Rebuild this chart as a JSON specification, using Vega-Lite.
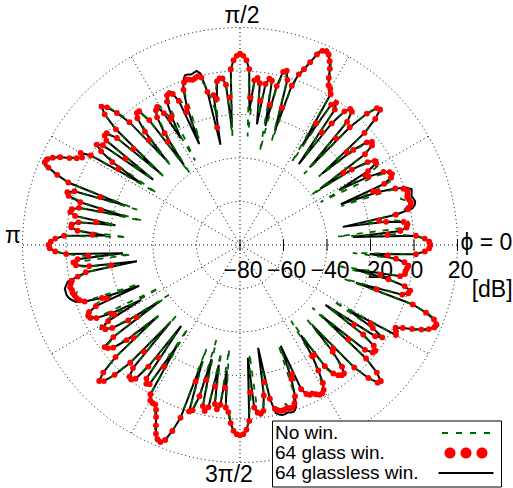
{
"$schema": "https://vega.github.io/schema/vega-lite/v6.json",
"width": 435, "height": 435,
"autosize": {"type": "none"},
"padding": {"left": 22.5, "top": 27.5, "right": 55.5, "bottom": 25.5},
"background": "white",
"config": {"view": {"stroke": null}, "font": "Liberation Sans"},
"datasets": {
"rings": [{"r":20},{"r":40},{"r":60},{"r":80},{"r":100}],
"spokes": [{"a":0},{"a":30},{"a":60},{"a":90},{"a":120},{"a":150},{"a":180},{"a":210},{"a":240},{"a":270},{"a":300},{"a":330}],
"tk": [{"r":0,"t":"−80"},{"r":20,"t":"−60"},{"r":40,"t":"−40"},{"r":60,"t":"−20"},{"r":80,"t":"0"},{"r":100,"t":"20"}],
"lbl": [{"t":"π/2","x":0.9,"y":105.3},{"t":"π","x":-104.4,"y":4.1},{"t":"3π/2","x":-5.1,"y":-105.7},{"t":"ϕ = 0","x":113.3,"y":0.9},{"t":"[dB]","x":115.9,"y":-20.7}],
"pat": [
{"a":0,"n":8,"g":7.5,"k":7.5},{"a":1,"n":7.5,"g":7,"k":7},{"a":2,"n":5,"g":5,"k":5},{"a":3,"n":0,"g":1,"k":1},{"a":4,"n":-8,"g":-12,"k":-28},
{"a":5,"n":-35,"g":-6,"k":-6},{"a":6,"n":-5,"g":-3,"k":-3},{"a":7,"n":-1.5,"g":-2.5,"k":-2.5},{"a":8,"n":-2,"g":-4,"k":-4},{"a":9,"n":-8,"g":-12,"k":-12},
{"a":10,"n":-25,"g":-15,"k":-32},{"a":11,"n":-10,"g":-7,"k":-7},{"a":12,"n":-3,"g":-1,"k":1},{"a":13,"n":-1,"g":0.5,"k":2.5},{"a":14,"n":0,"g":1,"k":3},
{"a":15,"n":-1,"g":0.5,"k":2.5},{"a":16,"n":-3,"g":0,"k":2},{"a":17,"n":-2,"g":0.5,"k":2.5},{"a":18,"n":0,"g":1,"k":3},{"a":19,"n":-1,"g":-0.5,"k":1},
{"a":20,"n":-6,"g":-4,"k":-4},{"a":21,"n":-30,"g":-12,"k":-12},{"a":22,"n":-10,"g":-14,"k":-30},{"a":23,"n":-5,"g":-8,"k":-8},{"a":24,"n":-3,"g":-4,"k":-4},
{"a":25,"n":-2,"g":-3,"k":-3},{"a":26,"n":-4,"g":-3.5,"k":-3.5},{"a":27,"n":-10,"g":-6,"k":-6},{"a":28,"n":-38,"g":-13,"k":-13},{"a":29,"n":-12,"g":-14,"k":-28},
{"a":30,"n":-6,"g":-12,"k":-12},{"a":31,"n":-5,"g":-7,"k":-7},{"a":32,"n":-6,"g":-7,"k":-7},{"a":33,"n":-12,"g":-10,"k":-10},{"a":34,"n":-20,"g":-18,"k":-18},
{"a":35,"n":-40,"g":-22,"k":-35},{"a":36,"n":-10,"g":-9,"k":-9},{"a":37,"n":-4,"g":-4,"k":-4},{"a":38,"n":-3,"g":-3,"k":-3},{"a":39,"n":-6,"g":-5,"k":-5},
{"a":40,"n":-16,"g":-12,"k":-12},{"a":41,"n":-32,"g":-15,"k":-30},{"a":42,"n":-2,"g":-3,"k":-3},{"a":43,"n":6,"g":5,"k":5},{"a":44,"n":10.5,"g":9.5,"k":9.5},
{"a":45,"n":10,"g":9,"k":9},{"a":46,"n":4,"g":4,"k":4},{"a":47,"n":-8,"g":-6,"k":-6},{"a":48,"n":-36,"g":-14,"k":-32},{"a":49,"n":-5,"g":-5,"k":-5},
{"a":50,"n":-1,"g":0,"k":0},{"a":51,"n":0,"g":0.5,"k":0.5},{"a":52,"n":-3,"g":-2,"k":-2},{"a":53,"n":-12,"g":-10,"k":-10},{"a":54,"n":-30,"g":-16,"k":-34},
{"a":55,"n":-6,"g":-4,"k":-4},{"a":56,"n":-2,"g":-1,"k":-1},{"a":57,"n":-4,"g":-3,"k":-3},{"a":58,"n":-35,"g":-14,"k":-26},{"a":59,"n":-2,"g":1,"k":1},
{"a":60,"n":2,"g":3,"k":3},{"a":61,"n":4.5,"g":4,"k":4},{"a":62,"n":8,"g":7,"k":7},{"a":63,"n":12,"g":11,"k":11},{"a":64,"n":15,"g":14,"k":14},
{"a":65,"n":17.5,"g":16.5,"k":16.5},{"a":66,"n":18.5,"g":17.5,"k":17.5},{"a":67,"n":18,"g":17,"k":17},{"a":68,"n":15.5,"g":14.5,"k":14.5},{"a":69,"n":11,"g":10,"k":10},
{"a":70,"n":6,"g":6,"k":6},{"a":71,"n":2,"g":3,"k":3},{"a":72,"n":-5,"g":-3,"k":-3},{"a":73,"n":-30,"g":-14,"k":-25},{"a":74,"n":-3,"g":-1,"k":-1},
{"a":75,"n":2,"g":3,"k":3},{"a":76,"n":1,"g":2,"k":2},{"a":77,"n":-8,"g":-5,"k":-5},{"a":78,"n":-36,"g":-14,"k":-24},{"a":79,"n":-4,"g":-3,"k":-3},
{"a":80,"n":-2,"g":-2.3,"k":-2.3},{"a":81,"n":-5,"g":-5,"k":-5},{"a":82,"n":-20,"g":-13,"k":-24},{"a":83,"n":-8,"g":-5,"k":-5},{"a":84,"n":-3,"g":-2.8,"k":-2.8},
{"a":85,"n":-5,"g":-4,"k":-4},{"a":86,"n":-30,"g":-12,"k":-18},{"a":87,"n":0,"g":1,"k":1},{"a":88,"n":5,"g":5,"k":5},{"a":89,"n":7,"g":7,"k":7},
{"a":90,"n":8.5,"g":8,"k":8},{"a":91,"n":7.5,"g":7,"k":7},{"a":92,"n":5,"g":5,"k":5},{"a":93,"n":0,"g":1,"k":1},{"a":94,"n":-30,"g":-12,"k":-26},
{"a":95,"n":-6,"g":-6,"k":-6},{"a":96,"n":-3,"g":-3,"k":-3},{"a":97,"n":-2,"g":-2.8,"k":-2.8},{"a":98,"n":-3,"g":-4,"k":-4},{"a":99,"n":-9,"g":-12,"k":-12},
{"a":100,"n":-20,"g":-10,"k":-10},{"a":101,"n":-12,"g":-25,"k":-33},{"a":102,"n":-6,"g":-8,"k":-8},{"a":103,"n":-3,"g":-1,"k":1},{"a":104,"n":-1,"g":0,"k":2.5},
{"a":105,"n":0,"g":-0.5,"k":2},{"a":106,"n":-2,"g":-1,"k":1.5},{"a":107,"n":-1,"g":-0.5,"k":2},{"a":108,"n":0,"g":0,"k":2},{"a":109,"n":-2,"g":-1,"k":0},
{"a":110,"n":-6,"g":-4,"k":-4},{"a":111,"n":-28,"g":-12,"k":-12},{"a":112,"n":-10,"g":-14,"k":-30},{"a":113,"n":-5,"g":-8,"k":-8},{"a":114,"n":-3,"g":-4,"k":-4},
{"a":115,"n":-2,"g":-3,"k":-3},{"a":116,"n":-4,"g":-3.5,"k":-3.5},{"a":117,"n":-10,"g":-6,"k":-6},{"a":118,"n":-36,"g":-13,"k":-13},{"a":119,"n":-12,"g":-14,"k":-24},
{"a":120,"n":-6,"g":-10,"k":-10},{"a":121,"n":-5,"g":-6,"k":-6},{"a":122,"n":-6,"g":-7,"k":-7},{"a":123,"n":-12,"g":-10,"k":-10},{"a":124,"n":-22,"g":-18,"k":-18},
{"a":125,"n":-40,"g":-22,"k":-35},{"a":126,"n":-10,"g":-9,"k":-9},{"a":127,"n":-4,"g":-3,"k":-3},{"a":128,"n":-3,"g":-3,"k":-3},{"a":129,"n":-6,"g":-5,"k":-5},
{"a":130,"n":-16,"g":-12,"k":-12},{"a":131,"n":-32,"g":-16,"k":-28},{"a":132,"n":-2,"g":-4,"k":-4},{"a":133,"n":4,"g":3,"k":3},{"a":134,"n":9,"g":8,"k":8},
{"a":135,"n":11,"g":10,"k":10},{"a":136,"n":7,"g":6.5,"k":6.5},{"a":137,"n":-2,"g":-2,"k":-2},{"a":138,"n":-34,"g":-14,"k":-30},{"a":139,"n":-6,"g":-5,"k":-5},
{"a":140,"n":-1,"g":0,"k":0},{"a":141,"n":0,"g":0,"k":0},{"a":142,"n":-3,"g":-2,"k":-2},{"a":143,"n":-30,"g":-14,"k":-30},{"a":144,"n":-4,"g":-2,"k":-2},
{"a":145,"n":0,"g":0.5,"k":0.5},{"a":146,"n":-4,"g":-3,"k":-3},{"a":147,"n":-14,"g":-10,"k":-10},{"a":148,"n":-35,"g":-14,"k":-26},{"a":149,"n":-2,"g":0,"k":0},
{"a":150,"n":4,"g":4.6,"k":4.6},{"a":151,"n":3,"g":3,"k":3},{"a":152,"n":5.5,"g":5,"k":5},{"a":153,"n":9,"g":8,"k":8},{"a":154,"n":13,"g":12,"k":12},
{"a":155,"n":16,"g":15,"k":15},{"a":156,"n":18,"g":17,"k":17},{"a":157,"n":19,"g":17.5,"k":17.5},{"a":158,"n":16.5,"g":15,"k":15},{"a":159,"n":11,"g":10,"k":10},
{"a":160,"n":4,"g":4,"k":4},{"a":161,"n":-30,"g":-12,"k":-24},{"a":162,"n":-2,"g":0,"k":0},{"a":163,"n":2,"g":3,"k":3},{"a":164,"n":1,"g":2,"k":2},
{"a":165,"n":-6,"g":-4,"k":-4},{"a":166,"n":-34,"g":-14,"k":-26},{"a":167,"n":-5,"g":-4,"k":-4},{"a":168,"n":-2,"g":-1,"k":-1},{"a":169,"n":-1,"g":-0.5,"k":-0.5},
{"a":170,"n":-4,"g":-3,"k":-3},{"a":171,"n":-22,"g":-13,"k":-22},{"a":172,"n":-6,"g":-5,"k":-5},{"a":173,"n":-3,"g":-2,"k":-2},{"a":174,"n":-2,"g":-2,"k":-2},
{"a":175,"n":-6,"g":-5,"k":-5},{"a":176,"n":-28,"g":-12,"k":-18},{"a":177,"n":0,"g":1,"k":1},{"a":178,"n":5,"g":5,"k":5},{"a":179,"n":7,"g":7,"k":7},
{"a":180,"n":8.5,"g":8,"k":8},{"a":181,"n":7.5,"g":7.5,"k":7.5},{"a":182,"n":5,"g":5,"k":5},{"a":183,"n":0,"g":0,"k":0},{"a":184,"n":-8,"g":-10,"k":-26},
{"a":185,"n":-30,"g":-5,"k":-5},{"a":186,"n":-3,"g":-3,"k":-3},{"a":187,"n":-3,"g":-4,"k":-4},{"a":188,"n":-8,"g":-10,"k":-10},{"a":189,"n":-24,"g":-20,"k":-32},
{"a":190,"n":-10,"g":-8,"k":-8},{"a":191,"n":-5,"g":-4,"k":-4},{"a":192,"n":-2,"g":-1,"k":1},{"a":193,"n":-1,"g":0,"k":2},{"a":194,"n":0,"g":0.5,"k":3},
{"a":195,"n":-1,"g":0,"k":3},{"a":196,"n":-2,"g":0,"k":3},{"a":197,"n":-1,"g":-0.5,"k":2.5},{"a":198,"n":0,"g":-1,"k":1.5},{"a":199,"n":-2,"g":-2,"k":0},
{"a":200,"n":-5,"g":-4,"k":-4},{"a":201,"n":-30,"g":-12,"k":-12},{"a":202,"n":-10,"g":-14,"k":-30},{"a":203,"n":-5,"g":-8,"k":-8},{"a":204,"n":-3,"g":-4,"k":-4},
{"a":205,"n":-2,"g":-3,"k":-3},{"a":206,"n":-4,"g":-3.5,"k":-3.5},{"a":207,"n":-10,"g":-6,"k":-6},{"a":208,"n":-38,"g":-13,"k":-13},{"a":209,"n":-12,"g":-14,"k":-28},
{"a":210,"n":-6,"g":-10,"k":-10},{"a":211,"n":-5,"g":-6.5,"k":-6.5},{"a":212,"n":-6,"g":-7,"k":-7},{"a":213,"n":-12,"g":-10,"k":-10},{"a":214,"n":-20,"g":-18,"k":-18},
{"a":215,"n":-40,"g":-22,"k":-35},{"a":216,"n":-10,"g":-8,"k":-8},{"a":217,"n":-3,"g":-2,"k":-2},{"a":218,"n":-3,"g":-3,"k":-3},{"a":219,"n":-6,"g":-5,"k":-5},
{"a":220,"n":-16,"g":-12,"k":-12},{"a":221,"n":-32,"g":-15,"k":-30},{"a":222,"n":-2,"g":-3,"k":-3},{"a":223,"n":6,"g":6,"k":6},{"a":224,"n":11,"g":10,"k":10},
{"a":225,"n":9,"g":8.5,"k":8.5},{"a":226,"n":3,"g":3,"k":3},{"a":227,"n":-8,"g":-6,"k":-6},{"a":228,"n":-36,"g":-14,"k":-32},{"a":229,"n":-5,"g":-5,"k":-5},
{"a":230,"n":-2,"g":-1,"k":-1},{"a":231,"n":-1,"g":-0.5,"k":-0.5},{"a":232,"n":-3,"g":-2,"k":-2},{"a":233,"n":-12,"g":-10,"k":-10},{"a":234,"n":-30,"g":-16,"k":-34},
{"a":235,"n":-6,"g":-5,"k":-5},{"a":236,"n":-4,"g":-3,"k":-3},{"a":237,"n":-4,"g":-3.7,"k":-3.7},{"a":238,"n":-35,"g":-14,"k":-26},{"a":239,"n":-2,"g":0,"k":0},
{"a":240,"n":2,"g":2.5,"k":2.5},{"a":241,"n":3,"g":3,"k":3},{"a":242,"n":3.5,"g":3,"k":3},{"a":243,"n":6,"g":5,"k":5},{"a":244,"n":9,"g":8,"k":8},
{"a":245,"n":12.5,"g":11.5,"k":11.5},{"a":246,"n":16,"g":15,"k":15},{"a":247,"n":18,"g":17,"k":17},{"a":248,"n":18.5,"g":17.7,"k":17.7},{"a":249,"n":17,"g":16,"k":16},
{"a":250,"n":12,"g":11,"k":11},{"a":251,"n":3,"g":4,"k":4},{"a":252,"n":-30,"g":-14,"k":-24},{"a":253,"n":-2,"g":0,"k":0},{"a":254,"n":-2,"g":-1,"k":-1},
{"a":255,"n":-10,"g":-8,"k":-8},{"a":256,"n":-35,"g":-16,"k":-26},{"a":257,"n":-5,"g":-4,"k":-4},{"a":258,"n":-2,"g":-2,"k":-2},{"a":259,"n":-4,"g":-4,"k":-4},
{"a":260,"n":-30,"g":-14,"k":-24},{"a":261,"n":-8,"g":-6,"k":-6},{"a":262,"n":-4,"g":-3.7,"k":-3.7},{"a":263,"n":-7,"g":-6,"k":-6},{"a":264,"n":-32,"g":-14,"k":-22},
{"a":265,"n":-6,"g":-5,"k":-5},{"a":266,"n":-4,"g":-3,"k":-3},{"a":267,"n":1,"g":2,"k":2},{"a":268,"n":6,"g":5.5,"k":5.5},{"a":269,"n":7.5,"g":7,"k":7},
{"a":270,"n":8,"g":7.5,"k":7.5},{"a":271,"n":7.5,"g":7,"k":7},{"a":272,"n":5,"g":5,"k":5},{"a":273,"n":0,"g":1,"k":1},{"a":274,"n":-10,"g":-12,"k":-28},
{"a":275,"n":-30,"g":-5,"k":-5},{"a":276,"n":-3,"g":-2.5,"k":-2.5},{"a":277,"n":-2,"g":-1.8,"k":-1.8},{"a":278,"n":-3,"g":-3,"k":-3},{"a":279,"n":-10,"g":-10,"k":-10},
{"a":280,"n":-22,"g":-16,"k":-32},{"a":281,"n":-10,"g":-8,"k":-8},{"a":282,"n":-4,"g":-3,"k":-1},{"a":283,"n":-3,"g":-2,"k":0},{"a":284,"n":-2,"g":-1.5,"k":0.5},
{"a":285,"n":-3,"g":-1.5,"k":0.5},{"a":286,"n":-4,"g":-2,"k":0},{"a":287,"n":-2,"g":-1.5,"k":0.5},{"a":288,"n":-2,"g":-1.5,"k":0.5},{"a":289,"n":-4,"g":-3,"k":-1},
{"a":290,"n":-8,"g":-6,"k":-6},{"a":291,"n":-30,"g":-14,"k":-14},{"a":292,"n":-12,"g":-16,"k":-30},{"a":293,"n":-6,"g":-8,"k":-8},{"a":294,"n":-5,"g":-5,"k":-5},
{"a":295,"n":-4,"g":-4,"k":-4},{"a":296,"n":-5,"g":-4,"k":-4},{"a":297,"n":-4,"g":-3,"k":-3},{"a":298,"n":-3,"g":-2,"k":-2},{"a":299,"n":-2,"g":-2,"k":-2},
{"a":300,"n":-4,"g":-3,"k":-3},{"a":301,"n":-8,"g":-6,"k":-6},{"a":302,"n":-14,"g":-12,"k":-12},{"a":303,"n":-22,"g":-19,"k":-19},{"a":304,"n":-38,"g":-19,"k":-30},
{"a":305,"n":-10,"g":-12,"k":-12},{"a":306,"n":-6,"g":-7,"k":-7},{"a":307,"n":-5,"g":-5,"k":-5},{"a":308,"n":-4,"g":-4,"k":-4},{"a":309,"n":-5,"g":-4,"k":-4},
{"a":310,"n":-9,"g":-7,"k":-7},{"a":311,"n":-18,"g":-15,"k":-15},{"a":312,"n":-34,"g":-16,"k":-30},{"a":313,"n":-3,"g":-3,"k":-3},{"a":314,"n":5,"g":5,"k":5},
{"a":315,"n":10,"g":9.5,"k":9.5},{"a":316,"n":11,"g":10,"k":10},{"a":317,"n":7,"g":6,"k":6},{"a":318,"n":-2,"g":-2,"k":-2},{"a":319,"n":-36,"g":-14,"k":-30},
{"a":320,"n":-6,"g":-5,"k":-5},{"a":321,"n":-2,"g":-1.5,"k":-1.5},{"a":322,"n":-2,"g":-1,"k":-1},{"a":323,"n":-4,"g":-3,"k":-3},{"a":324,"n":-12,"g":-10,"k":-10},
{"a":325,"n":-30,"g":-16,"k":-32},{"a":326,"n":-6,"g":-5,"k":-5},{"a":327,"n":-4,"g":-2,"k":-2},{"a":328,"n":-10,"g":-8,"k":-8},{"a":329,"n":-30,"g":-10,"k":-22},
{"a":330,"n":2,"g":2.8,"k":2.8},{"a":331,"n":1,"g":2,"k":2},{"a":332,"n":0,"g":1,"k":1},{"a":333,"n":4,"g":4,"k":4},{"a":334,"n":9,"g":8,"k":8},
{"a":335,"n":13,"g":12,"k":12},{"a":336,"n":16,"g":15,"k":15},{"a":337,"n":18,"g":17,"k":17},{"a":338,"n":18.5,"g":17.3,"k":17.3},{"a":339,"n":16.5,"g":15.5,"k":15.5},
{"a":340,"n":12,"g":11,"k":11},{"a":341,"n":4,"g":4,"k":4},{"a":342,"n":-30,"g":-14,"k":-24},{"a":343,"n":-3,"g":-2,"k":-2},{"a":344,"n":0,"g":0.5,"k":0.5},
{"a":345,"n":0,"g":1,"k":1},{"a":346,"n":-3,"g":-2,"k":-2},{"a":347,"n":-10,"g":-10,"k":-10},{"a":348,"n":-35,"g":-14,"k":-26},{"a":349,"n":-6,"g":-5,"k":-5},
{"a":350,"n":-3,"g":-3,"k":-3},{"a":351,"n":-3,"g":-3,"k":-3},{"a":352,"n":-3,"g":-2.5,"k":-2.5},{"a":353,"n":-2,"g":-2,"k":-2},{"a":354,"n":-5,"g":-4,"k":-4},
{"a":355,"n":-10,"g":-8,"k":-8},{"a":356,"n":-28,"g":-12,"k":-20},{"a":357,"n":0,"g":1,"k":1},{"a":358,"n":5,"g":5,"k":5},{"a":359,"n":7,"g":7,"k":7},
{"a":360,"n":8,"g":7.5,"k":7.5}
]
},
"layer": [
{
 "data": {"name": "rings"},
 "mark": {"type": "point", "shape": "circle", "filled": false, "stroke": "#000000", "strokeWidth": 1, "strokeDash": [1, 3], "opacity": 1},
 "encoding": {
  "x": {"datum": 0, "type": "quantitative", "scale": {"domain": [-100, 100], "nice": false, "zero": false}, "axis": null},
  "y": {"datum": 0, "type": "quantitative", "scale": {"domain": [-100, 100], "nice": false, "zero": false}, "axis": null},
  "size": {"field": "r", "type": "quantitative", "scale": {"type": "pow", "exponent": 2, "domain": [0, 100], "range": [0, 189225], "zero": true}, "legend": null}
 }
},
{
 "data": {"name": "spokes"},
 "transform": [
  {"calculate": "100*cos(datum.a*PI/180)", "as": "ex"},
  {"calculate": "100*sin(datum.a*PI/180)", "as": "ey"},
  {"calculate": "0", "as": "o"}
 ],
 "mark": {"type": "rule", "stroke": "#000000", "strokeWidth": 1, "strokeDash": [1, 3]},
 "encoding": {
  "x": {"field": "o", "type": "quantitative", "scale": {"domain": [-100, 100], "nice": false, "zero": false}, "axis": null},
  "y": {"field": "o", "type": "quantitative", "scale": {"domain": [-100, 100], "nice": false, "zero": false}, "axis": null},
  "x2": {"field": "ex"},
  "y2": {"field": "ey"}
 }
},
{
 "data": {"name": "tk"},
 "transform": [{"calculate": "-2.7", "as": "lo"}, {"calculate": "2.7", "as": "hi"}],
 "mark": {"type": "rule", "stroke": "#000000", "strokeWidth": 1},
 "encoding": {
  "x": {"field": "r", "type": "quantitative", "scale": {"domain": [-100, 100], "nice": false, "zero": false}, "axis": null},
  "y": {"field": "lo", "type": "quantitative", "scale": {"domain": [-100, 100], "nice": false, "zero": false}, "axis": null},
  "y2": {"field": "hi"}
 }
},
{
 "data": {"name": "tk"},
 "transform": [{"calculate": "-12", "as": "ly"}],
 "mark": {"type": "text", "font": "Liberation Sans", "fontSize": 23, "color": "#000000", "dx": 3, "align": "center", "baseline": "middle"},
 "encoding": {
  "x": {"field": "r", "type": "quantitative", "scale": {"domain": [-100, 100], "nice": false, "zero": false}, "axis": null},
  "y": {"field": "ly", "type": "quantitative", "scale": {"domain": [-100, 100], "nice": false, "zero": false}, "axis": null},
  "text": {"field": "t", "type": "nominal"}
 }
},
{
 "data": {"name": "lbl"},
 "mark": {"type": "text", "font": "Liberation Sans", "fontSize": 23, "color": "#000000", "align": "center", "baseline": "middle"},
 "encoding": {
  "x": {"field": "x", "type": "quantitative", "scale": {"domain": [-100, 100], "nice": false, "zero": false}, "axis": null},
  "y": {"field": "y", "type": "quantitative", "scale": {"domain": [-100, 100], "nice": false, "zero": false}, "axis": null},
  "text": {"field": "t", "type": "nominal"}
 }
},
{
 "data": {"name": "pat"},
 "transform": [
  {"fold": ["k"], "as": ["s", "v"]},
  {"calculate": "(datum.v+80)*cos(datum.a*PI/180)", "as": "x"},
  {"calculate": "(datum.v+80)*sin(datum.a*PI/180)", "as": "y"}
 ],
 "mark": {"type": "line", "strokeWidth": 2},
 "encoding": {
  "x": {"field": "x", "type": "quantitative", "scale": {"domain": [-100, 100], "nice": false, "zero": false}, "axis": null},
  "y": {"field": "y", "type": "quantitative", "scale": {"domain": [-100, 100], "nice": false, "zero": false}, "axis": null},
  "order": {"field": "a", "type": "quantitative"},
  "color": {"field": "s", "type": "nominal"}
 }
},
{
 "data": {"name": "pat"},
 "transform": [
  {"fold": ["n"], "as": ["s", "v"]},
  {"calculate": "(datum.v+80)*cos(datum.a*PI/180)", "as": "x"},
  {"calculate": "(datum.v+80)*sin(datum.a*PI/180)", "as": "y"}
 ],
 "mark": {"type": "line", "strokeDash": [6, 7], "strokeWidth": 1.8},
 "encoding": {
  "x": {"field": "x", "type": "quantitative", "scale": {"domain": [-100, 100], "nice": false, "zero": false}, "axis": null},
  "y": {"field": "y", "type": "quantitative", "scale": {"domain": [-100, 100], "nice": false, "zero": false}, "axis": null},
  "order": {"field": "a", "type": "quantitative"},
  "color": {
   "field": "s", "type": "nominal",
   "scale": {"domain": ["n", "g", "k"], "range": ["#006400", "#ff0000", "#000000"]},
   "legend": {
    "orient": "none", "legendX": 249.5, "legendY": 393,
    "title": null, "direction": "vertical",
    "labelExpr": "datum.value == 'n' ? 'No win.' : datum.value == 'g' ? '64 glass win.' : '64 glassless win.'",
    "labelFont": "Liberation Sans", "labelFontSize": 19, "labelColor": "#000000", "labelLimit": 0,
    "labelBaseline": "middle",
    "padding": 3, "strokeColor": "#000000", "fillColor": "#ffffff",
    "rowPadding": -1.5, "symbolSize": 256,
    "encode": {
     "symbols": {"update": {
      "shape": {"signal": "datum.value == 'g' ? 'M-20.5,0a4.5,4.5 0 1,0 9,0a4.5,4.5 0 1,0 -9,0ZM-4.5,0a4.5,4.5 0 1,0 9,0a4.5,4.5 0 1,0 -9,0ZM11.5,0a4.5,4.5 0 1,0 9,0a4.5,4.5 0 1,0 -9,0Z' : datum.value == 'n' ? 'M-24,0H24' : 'M-27.5,0H27.5'"},
      "size": {"value": 4},
      "fill": {"signal": "datum.value == 'g' ? '#ff0000' : 'transparent'"},
      "stroke": {"signal": "datum.value == 'n' ? '#006400' : datum.value == 'k' ? '#000000' : 'transparent'"},
      "strokeDash": {"signal": "datum.value == 'n' ? [6, 8] : [1, 0]"},
      "strokeWidth": {"value": 2},
      "opacity": {"value": 1},
      "x": {"value": 191}
     }},
     "labels": {"update": {"x": {"value": 0}}}
    }
   }
  }
 }
},
{
 "data": {"name": "pat"},
 "transform": [
  {"fold": ["g"], "as": ["s", "v"]},
  {"calculate": "(datum.v+80)*cos(datum.a*PI/180)", "as": "x"},
  {"calculate": "(datum.v+80)*sin(datum.a*PI/180)", "as": "y"}
 ],
 "mark": {"type": "circle", "size": 34, "opacity": 1},
 "encoding": {
  "x": {"field": "x", "type": "quantitative", "scale": {"domain": [-100, 100], "nice": false, "zero": false}, "axis": null},
  "y": {"field": "y", "type": "quantitative", "scale": {"domain": [-100, 100], "nice": false, "zero": false}, "axis": null},
  "color": {"field": "s", "type": "nominal"}
 }
}
]
}
